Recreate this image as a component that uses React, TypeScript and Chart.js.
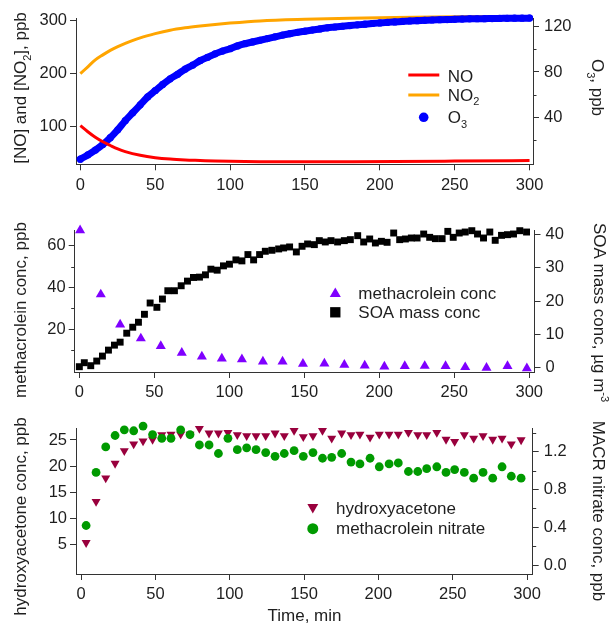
import React, { useEffect, useRef } from 'react';
import { Chart, registerables } from 'chart.js';

Chart.register(...registerables);

const FONT = '"Liberation Sans", Arial, Helvetica, sans-serif';
const INK = '#1e1e1e';
const AXIS = '#333333';

// ---------------- Panel 1: NO, NO2 (left axis) and O3 (right axis) ----------------
const lineTime = [0, 5, 10, 15, 20, 25, 30, 40, 50, 60, 70, 80, 90, 100, 120, 150, 180, 210, 250, 300];
const noValues = [102, 90.5, 80, 71.5, 64.5, 58, 53, 46, 41.5, 38.8, 37.2, 36.2, 35.2, 34.6, 34, 33.8, 34, 34.3, 35, 36];
const no2Values = [200, 213, 226, 235.5, 244, 251, 257, 267.5, 275.5, 282, 286.5, 290, 293, 295.5, 299.5, 302.5, 304.5, 306, 307.3, 308];

const o3Time = [
  0, 5, 10, 15, 20, 25, 30, 35, 40, 45, 50, 55, 60, 65, 70, 75, 80, 85, 90, 95,
  100, 105, 110, 115, 120, 125, 130, 135, 140, 145, 150, 155, 160, 165, 170, 175, 180, 185, 190, 195,
  200, 205, 210, 215, 220, 225, 230, 235, 240, 245, 250, 255, 260, 265, 270, 275, 280, 285, 290, 295, 300,
];
const o3Values = [
  3, 6.8, 11, 16, 22, 29, 37, 44, 51, 58, 63.5, 69, 74, 78, 82.5, 86, 90, 93, 96, 98.5,
  100.5, 103, 105, 106.5, 108, 109.5, 111, 112.5, 113.8, 115, 116, 117, 118, 119, 119.7, 120.4, 121, 121.6, 122.2, 122.8,
  123.3, 123.8, 124.2, 124.6, 125, 125.3, 125.6, 125.9, 126.1, 126.3, 126.5, 126.7, 126.9, 127, 127.1, 127.2, 127.3, 127.4, 127.5, 127.5, 127.6,
];

// ---------------- Panel 2: methacrolein (left) and SOA mass (right) ----------------
const macrTime = [0.5, 14.3, 27.2, 41, 54.3, 68.3, 81.7, 95, 108.4, 122.4, 135.5, 149.1, 163.4, 176.7, 190.3, 203.4, 217, 230.3, 244.2, 257.3, 271.5, 285.5, 298.4];
const macrValues = [67.4, 36.6, 22.2, 15.5, 11.8, 8.6, 6.8, 5.8, 5.5, 4.4, 4.4, 3.3, 3.4, 2.8, 2.5, 2.0, 2.2, 2.3, 2.2, 1.7, 1.4, 2.2, 1.2];

const soaTime = [
  0, 3.3, 7.6, 11.6, 15.4, 19.4, 23.4, 27.2, 31.6, 35.6, 39.4, 43.4, 47.2, 51.7, 55.4, 59, 63.4, 67.9, 72.1, 76.1,
  80.1, 84.1, 87.7, 91.9, 96.1, 100.1, 104.4, 108.4, 112.4, 116.2, 120.2, 124, 128.4, 132.9, 136.2, 140.2, 144.7, 148.5, 152.2, 156.7,
  160, 164, 167.8, 172.2, 176.7, 180.7, 185.6, 189.6, 193.6, 197.4, 201.4, 205.2, 209.6, 213.6, 217.4, 221.4, 225.2, 229.6, 233.6, 237.4,
  241.9, 245.7, 249.3, 253.3, 257.3, 261.7, 265.5, 269.5, 273.7, 277.3, 281.5, 285.5, 289.5, 293.7, 298.2,
];
const soaValues = [
  0.2, 1.4, 0.5, 1.9, 3.4, 5.2, 6.7, 7.6, 10.3, 12.1, 13.6, 16, 19.4, 18.1, 20.6, 23.1, 23.1, 24.6, 26, 27.1,
  27.2, 27.9, 29.6, 29.3, 30.6, 31.1, 32.4, 32.1, 34, 32.4, 34, 35, 35.3, 35.7, 36, 36.3, 34.8, 36.5, 37.2, 37,
  38.2, 37.8, 38.2, 37.8, 38.2, 38.5, 39.7, 37.8, 38.7, 37.5, 38, 37.7, 40.5, 38.5, 38.7, 39, 39, 40.2, 39.2, 38.8,
  38.8, 41, 39.2, 40.5, 40.8, 41.2, 40.2, 39, 40.8, 38.3, 39.8, 40, 40.2, 41.2, 40.8,
];

// ---------------- Panel 3: hydroxyacetone (left) and methacrolein nitrate (right) ----------------
const prodTime = [
  3.4, 10.1, 16.6, 22.9, 29.1, 35.4, 41.7, 48.1, 54.3, 60.5, 67, 73.3, 79.6, 86.1, 92.4, 98.8, 105.1, 111.4, 117.7,
  124.2, 130.5, 136.7, 143.3, 149.5, 156, 162.4, 168.6, 175.3, 181.6, 187.6, 194.4, 200.6, 207.2, 213.4, 220.2, 226.5, 232.5, 239.3, 245.5,
  251.3, 257.8, 264.1, 270.4, 276.9, 283.2, 289.4, 296,
];
const hydroxyValues = [
  5.3, 13.2, 17.7, 20.5, 22.9, 24.2, 24.8, 25.1, 26, 26.1, 26.1, 26.1, 27.2, 26.3, 26.3, 26.4, 26, 25.8, 25.8,
  25.8, 26.3, 25.8, 26.8, 25.6, 25.8, 26.8, 25.3, 26.3, 26, 26.1, 25.5, 26.1, 26.1, 26.1, 26.4, 26, 26, 26.4, 25.1,
  24.7, 26, 25.3, 25.8, 25.1, 25.3, 24.2, 25,
];
const nitrateValues = [
  0.42, 0.98, 1.25, 1.37, 1.43, 1.42, 1.47, 1.38, 1.34, 1.34, 1.43, 1.38, 1.27, 1.27, 1.18, 1.34, 1.22, 1.24, 1.22,
  1.19, 1.15, 1.18, 1.21, 1.15, 1.19, 1.13, 1.14, 1.18, 1.09, 1.07, 1.13, 1.04, 1.07, 1.08, 0.99, 0.99, 1.02, 1.04, 0.98,
  1.01, 0.98, 0.92, 0.98, 0.92, 1.04, 0.94, 0.92,
];

// ---------------- tick values ----------------
const timeTicks = [0, 50, 100, 150, 200, 250, 300];
const noTicks = [100, 200, 300];
const o3Ticks = [40, 80, 120];
const o3Minor = [20, 60, 100];
const macrTicks = [20, 40, 60];
const macrMinor = [10, 30, 50];
const soaTicks = [0, 10, 20, 30, 40];
const hydroxyTicks = [5, 10, 15, 20, 25];
const nitrateTicks = [0, 0.4, 0.8, 1.2];
const nitrateMinor = [0.2, 0.6, 1.0, 1.4];

const zip = (xs: number[], ys: number[]) => xs.map((x, i) => ({ x, y: ys[i] }));

// ---------------- drawing helpers ----------------
type Part = { t: string; sub?: boolean; sup?: boolean };
type TitleSpec = { parts: Part[]; x: number; y: number; rot: number };
type LegendSpec = {
  kind: 'line' | 'circle' | 'triangle' | 'triangleDown' | 'rect';
  color: string;
  mx: number;
  my: number;
  x2?: number;
  r?: number;
  parts: Part[];
  tx: number;
  ty: number;
};
type MinorSpec = { axis: string; values: number[]; side: 'left' | 'right' };
type OverlaySpec = { titles: TitleSpec[]; legend: LegendSpec[]; minor: MinorSpec[] };

const MAIN = 17;
const SMALL = 11;

function partFont(p: Part) {
  return `${p.sub || p.sup ? SMALL : MAIN}px ${FONT}`;
}
function richWidth(ctx: CanvasRenderingContext2D, parts: Part[]) {
  let w = 0;
  for (const p of parts) {
    ctx.font = partFont(p);
    w += ctx.measureText(p.t).width;
  }
  return w;
}
function drawRich(ctx: CanvasRenderingContext2D, parts: Part[], x: number, y: number, center: boolean) {
  let cx = center ? x - richWidth(ctx, parts) / 2 : x;
  ctx.textAlign = 'left';
  ctx.textBaseline = 'alphabetic';
  ctx.fillStyle = INK;
  for (const p of parts) {
    ctx.font = partFont(p);
    const dy = p.sub ? 4.5 : p.sup ? -7 : 0;
    ctx.fillText(p.t, cx, y + dy);
    cx += ctx.measureText(p.t).width;
  }
}
function drawMarker(ctx: CanvasRenderingContext2D, kind: string, x: number, y: number, r: number, color: string) {
  ctx.fillStyle = color;
  ctx.beginPath();
  if (kind === 'circle') {
    ctx.arc(x, y, r, 0, Math.PI * 2);
  } else if (kind === 'rect') {
    const s = Math.SQRT1_2 * r;
    ctx.rect(x - s, y - s, 2 * s, 2 * s);
  } else {
    const base = kind === 'triangleDown' ? Math.PI : 0;
    for (let k = 0; k < 3; k++) {
      const a = base + (k * 2 * Math.PI) / 3;
      const px = x + Math.sin(a) * r;
      const py = y - Math.cos(a) * r;
      if (k === 0) ctx.moveTo(px, py);
      else ctx.lineTo(px, py);
    }
    ctx.closePath();
  }
  ctx.fill();
}

function makeOverlay(spec: OverlaySpec) {
  return {
    id: 'overlay',
    afterDraw(chart: any) {
      const ctx: CanvasRenderingContext2D = chart.ctx;
      ctx.save();
      ctx.strokeStyle = AXIS;
      ctx.lineWidth = 1;
      for (const m of spec.minor) {
        const sc = chart.scales[m.axis];
        for (const v of m.values) {
          const p = Math.round(sc.getPixelForValue(v)) + 0.5;
          const x0 = m.side === 'left' ? sc.right : sc.left;
          const dx = m.side === 'left' ? -3.5 : 3.5;
          ctx.beginPath();
          ctx.moveTo(x0, p);
          ctx.lineTo(x0 + dx, p);
          ctx.stroke();
        }
      }
      for (const t of spec.titles) {
        ctx.save();
        ctx.translate(t.x, t.y);
        ctx.rotate((t.rot * Math.PI) / 180);
        const base = t.rot === 0 ? 5.5 : 4.4;
        drawRich(ctx, t.parts, 0, base, true);
        ctx.restore();
      }
      for (const l of spec.legend) {
        if (l.kind === 'line') {
          ctx.strokeStyle = l.color;
          ctx.lineWidth = 3;
          ctx.beginPath();
          ctx.moveTo(l.mx, l.my);
          ctx.lineTo(l.x2 || l.mx, l.my);
          ctx.stroke();
        } else {
          drawMarker(ctx, l.kind, l.mx, l.my, l.r || 5, l.color);
        }
        drawRich(ctx, l.parts, l.tx, l.ty, false);
      }
      ctx.restore();
    },
  };
}

function makeAxis(
  position: 'left' | 'right' | 'bottom',
  min: number,
  max: number,
  ticks: number[],
  size: number,
  fmt?: (v: number) => string,
) {
  return {
    type: 'linear',
    position,
    min,
    max,
    afterBuildTicks: (s: any) => {
      s.ticks = ticks.map((v) => ({ value: v }));
    },
    afterFit: (s: any) => {
      if (position === 'bottom') s.height = size;
      else s.width = size;
    },
    grid: {
      display: true,
      drawOnChartArea: false,
      drawTicks: true,
      tickLength: 6,
      tickColor: AXIS,
      tickWidth: 1,
    },
    border: { display: true, color: AXIS, width: 1 },
    ticks: {
      color: INK,
      font: { family: FONT, size: 16.5 },
      padding: position === 'left' ? 3 : 5,
      maxRotation: 0,
      autoSkip: false,
      callback: (v: any) => (fmt ? fmt(Number(v)) : String(v)),
    },
  };
}

const baseOptions = (padTop: number) => ({
  animation: false,
  responsive: false,
  maintainAspectRatio: false,
  events: [],
  layout: { padding: { top: padTop, left: 0, right: 0, bottom: 0 } },
  plugins: { legend: { display: false }, tooltip: { enabled: false }, title: { display: false } },
});

// ---------------- chart configs ----------------
function buildTop(): any {
  return {
    type: 'line',
    data: {
      datasets: [
        {
          label: 'NO',
          data: zip(lineTime, noValues),
          yAxisID: 'yL',
          borderColor: '#ff0000',
          borderWidth: 3,
          pointRadius: 0,
          cubicInterpolationMode: 'monotone',
          clip: false,
        },
        {
          label: 'O3',
          data: zip(o3Time, o3Values),
          yAxisID: 'yR',
          borderColor: '#0000ff',
          backgroundColor: '#0000ff',
          borderWidth: 7,
          borderCapStyle: 'round',
          pointRadius: 3.6,
          pointBorderWidth: 0,
          cubicInterpolationMode: 'monotone',
          clip: false,
        },
        {
          label: 'NO2',
          data: zip(lineTime, no2Values),
          yAxisID: 'yL',
          borderColor: '#ffa500',
          borderWidth: 3,
          pointRadius: 0,
          cubicInterpolationMode: 'monotone',
          clip: false,
        },
      ],
    },
    options: {
      ...baseOptions(18.3),
      scales: {
        x: makeAxis('bottom', -2.9, 302.3, timeTicks, 35.7),
        yL: makeAxis('left', 29, 304.5, noTicks, 76),
        yR: makeAxis('right', -1.5, 127.4, o3Ticks, 79),
      },
    },
    plugins: [
      makeOverlay({
        minor: [{ axis: 'yR', values: o3Minor, side: 'right' }],
        titles: [
          { parts: [{ t: '[NO] and [NO' }, { t: '2', sub: true }, { t: '], ppb' }], x: 22, y: 88, rot: -90 },
          { parts: [{ t: 'O' }, { t: '3', sub: true }, { t: ', ppb' }], x: 596, y: 87.5, rot: 90 },
        ],
        legend: [
          { kind: 'line', color: '#ff0000', mx: 408.3, x2: 439.3, my: 75, parts: [{ t: 'NO' }], tx: 447.7, ty: 81.7 },
          { kind: 'line', color: '#ffa500', mx: 408.3, x2: 439.3, my: 95, parts: [{ t: 'NO' }, { t: '2', sub: true }], tx: 447.7, ty: 100.7 },
          { kind: 'circle', color: '#0000ff', mx: 423.7, my: 117.3, r: 4.8, parts: [{ t: 'O' }, { t: '3', sub: true }], tx: 447.7, ty: 123.3 },
        ],
      }),
    ],
  };
}

function buildMiddle(): any {
  return {
    type: 'line',
    data: {
      datasets: [
        {
          label: 'methacrolein conc',
          data: zip(macrTime, macrValues),
          yAxisID: 'yL',
          showLine: false,
          pointStyle: 'triangle',
          pointRadius: 5.8,
          pointBorderWidth: 0,
          backgroundColor: '#7f00ff',
          borderColor: '#7f00ff',
          clip: false,
        },
        {
          label: 'SOA mass conc',
          data: zip(soaTime, soaValues),
          yAxisID: 'yR',
          showLine: false,
          pointStyle: 'rect',
          pointRadius: 4.9,
          pointBorderWidth: 0,
          backgroundColor: '#000000',
          borderColor: '#000000',
          clip: false,
        },
      ],
    },
    options: {
      ...baseOptions(30.7),
      scales: {
        x: makeAxis('bottom', -3.1, 303.5, timeTicks, 33),
        yL: makeAxis('left', -0.6, 67.2, macrTicks, 74.7),
        yR: makeAxis('right', -1.4, 41.2, soaTicks, 77.5),
      },
    },
    plugins: [
      makeOverlay({
        minor: [{ axis: 'yL', values: macrMinor, side: 'left' }],
        titles: [
          { parts: [{ t: 'methacrolein conc, ppb' }], x: 22, y: 110, rot: -90 },
          { parts: [{ t: 'SOA mass conc, \u00b5g m' }, { t: '-3', sup: true }], x: 598, y: 112.5, rot: 90 },
        ],
        legend: [
          { kind: 'triangle', color: '#7f00ff', mx: 335.3, my: 93.8, r: 6.4, parts: [{ t: 'methacrolein conc' }], tx: 358.3, ty: 99.4 },
          { kind: 'rect', color: '#000000', mx: 335.3, my: 112.3, r: 7.3, parts: [{ t: 'SOA mass conc' }], tx: 358.3, ty: 118.4 },
        ],
      }),
    ],
  };
}

function buildBottom(): any {
  return {
    type: 'line',
    data: {
      datasets: [
        {
          label: 'methacrolein nitrate',
          data: zip(prodTime, nitrateValues),
          yAxisID: 'yR',
          showLine: false,
          pointStyle: 'circle',
          pointRadius: 4.4,
          pointBorderWidth: 0,
          backgroundColor: '#009a00',
          borderColor: '#009a00',
          clip: false,
        },
        {
          label: 'hydroxyacetone',
          data: zip(prodTime, hydroxyValues),
          yAxisID: 'yL',
          showLine: false,
          pointStyle: 'triangle',
          pointRotation: 180,
          pointRadius: 5.2,
          pointBorderWidth: 0,
          backgroundColor: '#99003d',
          borderColor: '#99003d',
          clip: false,
        },
      ],
    },
    options: {
      ...baseOptions(23.5),
      scales: {
        x: makeAxis('bottom', -3.4, 303.8, timeTicks, 49),
        yL: makeAxis('left', -0.7, 27.2, hydroxyTicks, 76),
        yR: makeAxis('right', -0.092, 1.444, nitrateTicks, 612 - 532.7, (v) => v.toFixed(1)),
      },
    },
    plugins: [
      makeOverlay({
        minor: [{ axis: 'yR', values: nitrateMinor, side: 'right' }],
        titles: [
          { parts: [{ t: 'hydroxyacetone conc, ppb' }], x: 22, y: 111.5, rot: -90 },
          { parts: [{ t: 'MACR nitrate conc, ppb' }], x: 597, y: 106, rot: 90 },
          { parts: [{ t: 'Time, min' }], x: 304.5, y: 210, rot: 0 },
        ],
        legend: [
          { kind: 'triangleDown', color: '#99003d', mx: 312.8, my: 102.2, r: 6.3, parts: [{ t: 'hydroxyacetone' }], tx: 336, ty: 109 },
          { kind: 'circle', color: '#009a00', mx: 312.8, my: 123.7, r: 5.5, parts: [{ t: 'methacrolein nitrate' }], tx: 336, ty: 129.4 },
        ],
      }),
    ],
  };
}

function Panel({ top, height, build }: { top: number; height: number; build: () => any }) {
  const ref = useRef<HTMLCanvasElement>(null);
  useEffect(() => {
    if (!ref.current) return;
    const chart = new Chart(ref.current, build());
    return () => chart.destroy();
  }, [build]);
  return (
    <canvas
      ref={ref}
      width={612}
      height={height}
      style={{ position: 'absolute', left: 0, top, width: 612, height, display: 'block' }}
    />
  );
}

export default function App() {
  return (
    <div style={{ position: 'absolute', left: 0, top: 0, width: 612, height: 623, background: '#ffffff', overflow: 'hidden' }}>
      <Panel top={0} height={200} build={buildTop} />
      <Panel top={200} height={205} build={buildMiddle} />
      <Panel top={405} height={218} build={buildBottom} />
    </div>
  );
}
